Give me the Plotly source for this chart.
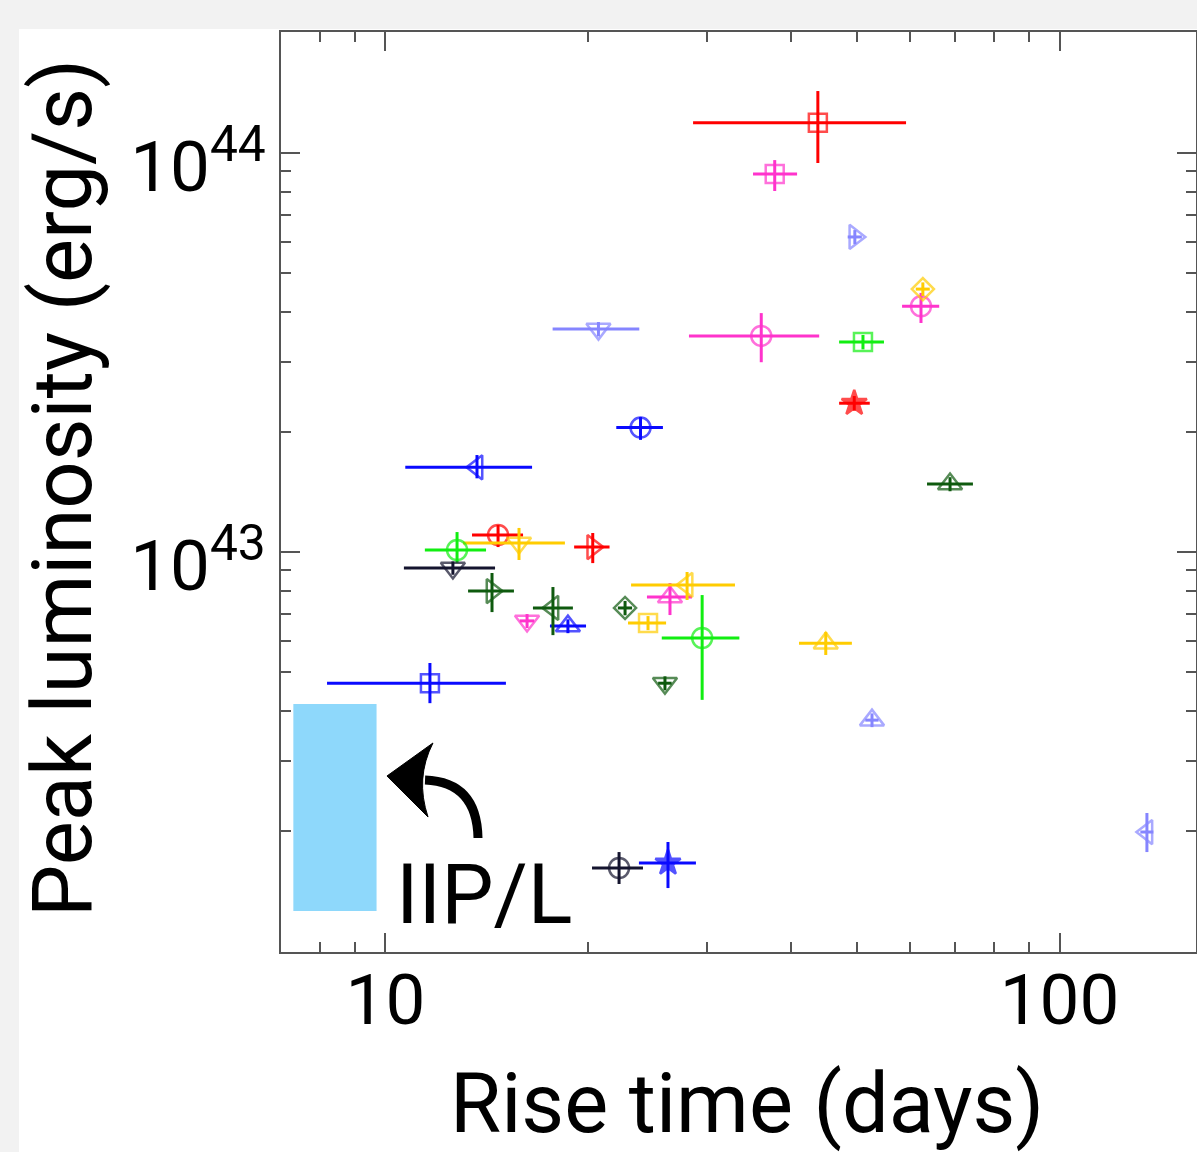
import plotly.graph_objects as go

# ---- data ----
rise_time = [43.8, 37.8, 49.7, 62.7, 62.3, 20.7, 36.1, 51.1, 49.6, 23.9, 13.67,
             68.8, 14.69, 15.78, 12.77, 20.3, 12.59, 14.39, 17.72, 16.22, 18.65,
             22.67, 24.52, 28.02, 26.43, 29.5, 25.98, 11.64, 22.21, 26.25, 52.7,
             45.0, 134.8]
rise_err_lo = [15.2, 2.7, 1.2, 1.5, 3.9, 3.0, 7.9, 4.0, 2.5, 1.9, 2.97,
               5.2, 1.25, 2.75, 1.33, 1.25, 1.94, 1.13, 1.17, 0.4, 1.11,
               0.55, 1.62, 4.88, 2.0, 3.8, 0.6, 3.45, 1.96, 2.48, 1.2,
               3.93, 3.0]
rise_err_hi = [15.4, 3.0, 1.2, 1.5, 4.0, 3.1, 7.9, 3.8, 2.7, 1.9, 2.83,
               5.6, 1.31, 2.68, 1.33, 1.2, 1.95, 1.12, 1.25, 0.4, 1.19,
               0.55, 1.56, 4.98, 2.07, 4.0, 0.6, 3.45, 1.89, 2.63, 1.2,
               4.2, 3.0]
peak_lum = [1.19e44, 8.86e43, 6.16e43, 4.56e43, 4.13e43, 3.62e43, 3.48e43,
            3.36e43, 2.36e43, 2.05e43, 1.63e43, 1.48e43, 1.103e43, 1.053e43,
            1.012e43, 1.029e43, 9.12e42, 7.98e42, 7.24e42, 6.72e42, 6.52e42,
            7.24e42, 6.64e42, 8.27e42, 7.71e42, 6.09e42, 4.69e42, 4.69e42,
            1.614e42, 1.662e42, 3.79e42, 5.91e42, 1.987e42]
lum_err_lo = [2.46e43, 0.83e43, 0.25e43, 0.18e43, 0.38e43, 0.15e43, 0.49e43,
              0.14e43, 0.10e43, 0.14e43, 0.10e43, 0.06e43, 0.074e43, 0.098e43,
              0.072e43, 0.091e43, 0.35e42, 0.91e42, 1.05e42, 0.27e42, 0.26e42,
              0.30e42, 0.27e42, 0.69e42, 0.76e42, 1.83e42, 0.19e42, 0.51e42,
              0.142e42, 0.224e42, 0.15e42, 0.39e42, 0.217e42]
lum_err_hi = [2.40e43, 0.74e43, 0.25e43, 0.18e43, 0.33e43, 0.15e43, 0.49e43,
              0.14e43, 0.10e43, 0.13e43, 0.12e43, 0.06e43, 0.066e43, 0.096e43,
              0.11e43, 0.087e43, 0.35e42, 0.88e42, 0.93e42, 0.27e42, 0.26e42,
              0.30e42, 0.27e42, 0.64e42, 0.65e42, 1.71e42, 0.19e42, 0.58e42,
              0.156e42, 0.214e42, 0.15e42, 0.39e42, 0.231e42]
group = ["red", "magenta", "periwinkle", "gold", "magenta", "periwinkle", "magenta",
         "green", "red", "blue", "blue", "darkgreen", "red", "gold", "green", "red",
         "navy", "darkgreen", "darkgreen", "magenta", "blue", "darkgreen", "gold",
         "gold", "magenta", "green", "darkgreen", "blue", "navy", "blue",
         "periwinkle", "gold", "periwinkle"]
shape = ["square", "square", "tri-right", "diamond", "circle", "tri-down", "circle",
         "square", "star", "circle", "tri-left", "tri-up", "circle", "tri-down",
         "circle", "tri-right", "tri-down", "tri-right", "tri-left", "tri-down",
         "tri-up", "diamond", "square", "tri-left", "tri-up", "circle", "tri-down",
         "square", "circle", "star", "tri-up", "tri-up", "tri-left"]

# IIP/L region
iipl_rise = [7.3, 9.7]
iipl_lum = [1.26e42, 4.16e42]
iipl_label = "IIP/L"

x_tickvals = [10, 100]
x_ticktext = ["10", "100"]
x_minor = [8, 9, 20, 30, 40, 50, 60, 70, 80, 90]
y_tickvals = [1e43, 1e44]
y_ticktext = ["10<sup>43</sup>", "10<sup>44</sup>"]
y_minor = [2e42, 3e42, 4e42, 5e42, 6e42, 7e42, 8e42, 9e42,
           2e43, 3e43, 4e43, 5e43, 6e43, 7e43, 8e43, 9e43]

# ---- styles ----
colors = {"red": "#ff0000", "magenta": "#ff33cc", "periwinkle": "#8585ff",
          "gold": "#ffcc00", "green": "#11ee11", "blue": "#0a0aff",
          "darkgreen": "#0e5a0e", "navy": "#14142e"}
symbols = {"square": "square-open", "circle": "circle-open",
           "tri-up": "triangle-up-open", "tri-down": "triangle-down-open",
           "tri-left": "triangle-left-open", "tri-right": "triangle-right-open",
           "diamond": "diamond-open", "star": "star"}
sizes = {"square": 18, "circle": 20, "tri-up": 21, "tri-down": 21,
         "tri-left": 21, "tri-right": 21, "diamond": 17, "star": 19}

fig = go.Figure()

# IIP/L band
fig.add_trace(go.Scatter(
    x=[iipl_rise[0], iipl_rise[1], iipl_rise[1], iipl_rise[0], iipl_rise[0]],
    y=[iipl_lum[0], iipl_lum[0], iipl_lum[1], iipl_lum[1], iipl_lum[0]],
    mode="lines", fill="toself", fillcolor="#8ed8fb",
    line=dict(width=0, color="#8ed8fb"), hoverinfo="skip", showlegend=False))

for g in colors:
    idx = [i for i, c in enumerate(group) if c == g]
    c = colors[g]
    fig.add_trace(go.Scatter(
        x=[rise_time[i] for i in idx],
        y=[peak_lum[i] for i in idx],
        mode="markers",
        marker=dict(symbol=[symbols[shape[i]] for i in idx],
                    size=[sizes[shape[i]] for i in idx],
                    color=c, line=dict(color=c, width=2.5)),
        error_x=dict(type="data", symmetric=False,
                     array=[rise_err_hi[i] for i in idx],
                     arrayminus=[rise_err_lo[i] for i in idx],
                     thickness=3, width=0, color=c),
        error_y=dict(type="data", symmetric=False,
                     array=[lum_err_hi[i] for i in idx],
                     arrayminus=[lum_err_lo[i] for i in idx],
                     thickness=3, width=0, color=c),
        showlegend=False))

tick_font = dict(family="Roboto, sans-serif", size=71, color="black")
title_font = dict(family="Roboto, sans-serif", size=83, color="black")
axcol = "#555555"

common = dict(type="log", showline=True, linecolor=axcol, linewidth=2,
              mirror="allticks", ticks="inside", ticklen=19, tickwidth=2,
              tickcolor=axcol, showgrid=False, zeroline=False,
              tickfont=tick_font, tickmode="array")

fig.update_xaxes(range=[0.845, 2.2025], tickvals=x_tickvals, ticktext=x_ticktext,
                 ticklabelstandoff=-15,
                 minor=dict(tickmode="array", tickvals=x_minor, ticks="inside",
                            ticklen=10, tickwidth=2, tickcolor=axcol, showgrid=False),
                 **common)
fig.update_yaxes(range=[41.9975, 44.3033], tickvals=y_tickvals, ticktext=y_ticktext,
                 ticklabelstandoff=-1, ticklabelshift=13,
                 minor=dict(tickmode="array", tickvals=y_minor, ticks="inside",
                            ticklen=10, tickwidth=2, tickcolor=axcol, showgrid=False),
                 **common)

# white panel behind the figure
fig.add_shape(type="rect", xref="paper", yref="paper", x0=-0.2863, x1=1.0011,
              y0=-0.2174, y1=1.0033, fillcolor="white", line=dict(width=0),
              layer="below")

# curved arrow pointing at the IIP/L band
fig.add_shape(type="path", xref="paper", yref="paper",
              path="M 0.2153 0.1239 Q 0.2142 0.1848 0.1574 0.1870",
              line=dict(color="black", width=9), layer="above")
fig.add_shape(type="path", xref="paper", yref="paper",
              path="M 0.1158 0.1913 L 0.1661 0.2272 Q 0.1464 0.1891 0.1607 0.1467 Z",
              fillcolor="black", line=dict(color="black", width=1), layer="above")

fig.add_annotation(text=iipl_label, xref="paper", yref="paper", x=0.1234, y=0.062,
                   xanchor="left", yanchor="middle", showarrow=False, font=title_font)
fig.add_annotation(text="Rise time (days)", xref="paper", yref="paper",
                   x=0.5093, y=-0.1652, xanchor="center", yanchor="middle",
                   showarrow=False, font=title_font)
fig.add_annotation(text="Peak luminosity (erg/s)", xref="paper", yref="paper",
                   x=-0.2393, y=0.5043, xanchor="center", yanchor="middle",
                   textangle=-90, showarrow=False, font=title_font)

fig.update_layout(width=1197, height=1152,
                  margin=dict(l=281, r=1, t=32, b=200, pad=0, autoexpand=False),
                  paper_bgcolor="#f2f2f2", plot_bgcolor="white",
                  showlegend=False)

fig.write_html("out.html", config={"displayModeBar": False},
               post_script="document.body.style.margin='0';"
                           "document.body.style.padding='0';"
                           "document.body.style.background='#f2f2f2';")
